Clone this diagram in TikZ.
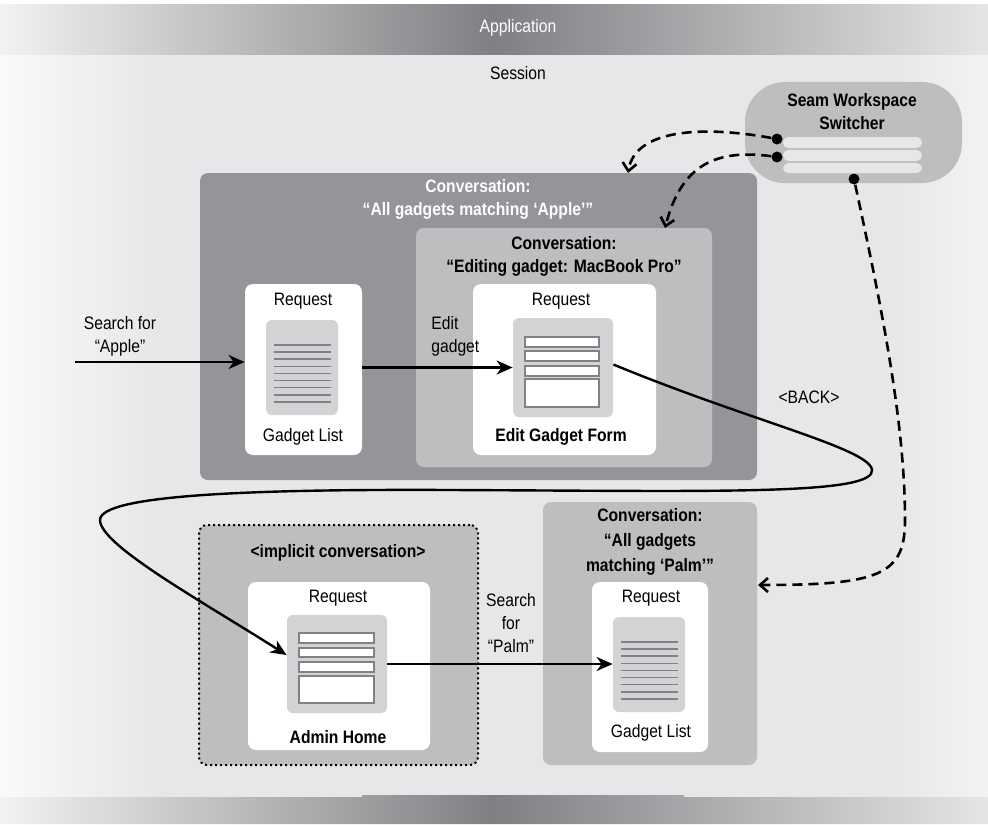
\documentclass[tikz,border=0pt]{standalone}
\usepackage{fontspec}
\setmainfont{Liberation Sans}[FakeStretch=0.87]
\usetikzlibrary{positioning,fit,arrows.meta}

\definecolor{convdarkgray}{HTML}{939598}
\definecolor{convlightgray}{HTML}{BCBEC0}
\definecolor{icongray}{HTML}{D1D3D4}
\definecolor{rulegray}{HTML}{808285}
\definecolor{sessiongray}{HTML}{E6E7E8}
\definecolor{sessionedge}{HTML}{FAFAFA}
\definecolor{sessionright}{HTML}{F3F3F3}
\definecolor{bandlight}{HTML}{F2F2F2}
\definecolor{banddark}{HTML}{7F8083}
\definecolor{bandright}{HTML}{E4E5E6}

\pgfdeclarehorizontalshading{sessionshade}{100bp}{color(0bp)=(sessionedge); color(25bp)=(sessionedge); color(33bp)=(sessiongray); color(70bp)=(sessiongray); color(75bp)=(sessionright); color(100bp)=(sessionright)}
\pgfdeclarehorizontalshading{bandshade}{100bp}{color(0bp)=(bandlight); color(25bp)=(bandlight); color(50bp)=(banddark); color(75bp)=(bandright); color(100bp)=(bandright)}

\tikzset{
  txt/.style={font=\fontsize{9}{11.5}\selectfont, align=center, inner sep=0pt},
  btxt/.style={txt, font=\fontsize{9}{11.5}\selectfont\bfseries},
  conv/.style={fill=convdarkgray, rounded corners=4pt, inner sep=0pt},
  subconv/.style={fill=convlightgray, rounded corners=4pt, inner sep=0pt},
  request/.style={fill=white, rounded corners=4pt, inner sep=0pt},
  doc/.style={fill=icongray, rounded corners=3pt, inner sep=0pt},
  field/.style={draw=rulegray, fill=white, line width=0.8pt},
  listrule/.style={draw=rulegray, line width=0.8pt},
  flow/.style={line width=1.2pt, -{Stealth[length=8pt,width=7pt,inset=2.5pt]}},
  switchflow/.style={line width=1.3pt, dash pattern=on 5pt off 3pt, -{Straight Barb[length=4pt,width=7pt]}},
  wsdot/.style={circle, fill=black, inner sep=0pt, minimum size=5.5pt},
}

\begin{document}
\begin{tikzpicture}[x=0.5pt,y=-0.5pt]
\useasboundingbox (0,0) rectangle (988,824);

% Session background and application bands
\shade[shading=sessionshade] (0,55) rectangle (988,797);
\shade[shading=bandshade] (0,5) rectangle (988,55);
\shade[shading=bandshade] (0,824) -- (0,797) -- (362,797) -- (362,795) -- (684,795) -- (684,797) -- (988,797) -- (988,824) -- cycle;
\node[txt, text=white] (app) at (518,28) {Application};
\node[txt] (session) at (518,73) {Session};

% Conversation: Apple, with nested editing conversation
\node[conv, fit={(200,173) (757,480)}] (apple) {};
\node[btxt, text=white] (appleT) at (478,199) {Conversation:\\“All gadgets matching ‘Apple’”};
\node[subconv, fit={(416,228) (712,467)}] (edit) {};
\node[btxt] (editT) at (564,256) {Conversation:\\“Editing gadget: MacBook Pro”};

% Request: gadget list
\node[request, fit={(245,284) (362,455)}] (req1) {};
\node[txt] (req1T) at (303,301) {Request};
\node[doc, fit={(266,320) (338,415)}] (list1) {};
\foreach \k in {0,...,8} \draw[listrule] (274,{345+7.1*\k}) -- (331,{345+7.1*\k});
\node[txt] (list1T) at (303,437) {Gadget List};

% Request: edit gadget form
\node[request, fit={(473,284) (656,455)}] (req2) {};
\node[txt] (req2T) at (561,301) {Request};
\node[doc, fit={(513,318) (613,417)}] (form1) {};
\foreach \a/\b in {337/347,351/361,366/376,379/407} \draw[field] (525,\a) rectangle (599,\b);
\node[btxt] (form1T) at (561,437) {Edit Gadget Form};

% Implicit conversation
\node[subconv, draw, line width=1pt, dash pattern=on 1pt off 1.5pt, fit={(199,525) (478,765)}] (implicit) {};
\node[btxt] (implicitT) at (338,553) {<implicit conversation>};
\node[request, fit={(248,582) (430,750)}] (req3) {};
\node[txt] (req3T) at (338,598) {Request};
\node[doc, fit={(287,615) (387,713)}] (admin) {};
\foreach \a/\b in {633/643,648/657,662/672,676/703} \draw[field] (299,\a) rectangle (374,\b);
\node[btxt] (adminT) at (338,737) {Admin Home};

% Conversation: Palm
\node[subconv, fit={(543,502) (757,765)}] (palm) {};
\node[btxt] (palmT) at (650,542) {Conversation:\\[1pt]“All gadgets\\[1pt]matching ‘Palm’”};
\node[request, fit={(592,582) (708,752)}] (req4) {};
\node[txt] (req4T) at (651,598) {Request};
\node[doc, fit={(613,617) (685,712)}] (list2) {};
\foreach \k in {0,...,8} \draw[listrule] (621,{642+7.1*\k}) -- (678,{642+7.1*\k});
\node[txt] (list2T) at (651,733) {Gadget List};

% Seam workspace switcher
\node[subconv, rounded corners=20pt, fit={(745,82) (962,183)}] (switcher) {};
\node[btxt] (switcherT) at (852,112) {Seam Workspace\\Switcher};
\foreach \a/\b in {137/148,150/161,163/173} \fill[sessiongray, rounded corners=2.7pt] (783,\a) rectangle (922,\b);
\node[wsdot] (dotA) at (777,139) {};
\node[wsdot] (dotB) at (777,157) {};
\node[wsdot] (dotC) at (854,179) {};

% Labels
\node[txt] (searchA) at (120,336) {Search for\\“Apple”};
\node[txt, align=left, anchor=west] (editL) at (431,336) {Edit\\gadget};
\node[txt] (back) at (809,397) {<BACK>};
\node[txt] (searchP) at (511,623) {Search\\for\\“Palm”};

% Requests
\coordinate (srcA) at (75,362);
\draw[flow] (srcA) -- (srcA -| req1.west);
\draw[flow] (req1.east |- form1.west) -- (form1.west);
\draw[flow] ([yshift=1.5pt]form1.east) .. controls (760,425) and (885,452) .. (871,474)
  .. controls (855,495) and (700,491) .. (450,490)
  .. controls (250,489) and (100,495) .. (100,520)
  .. controls (100,545) and (200,600) .. ([yshift=4.5pt]admin.west);
\draw[flow] (admin.east) -- (admin.east -| list2.west);

% Workspace switching
\coordinate (toApple) at (628,173);
\coordinate (toEdit) at (665,228);
\coordinate (toPalm) at (758,585);
\draw[switchflow] (dotA) .. controls (700,125) and (635,130) .. (toApple);
\draw[switchflow] (dotB) .. controls (710,148) and (680,170) .. (toEdit);
\draw[switchflow] (dotC) .. controls (880,300) and (905,420) .. (905,520) .. controls (905,575) and (880,585) .. (toPalm);

\end{tikzpicture}
\end{document}
